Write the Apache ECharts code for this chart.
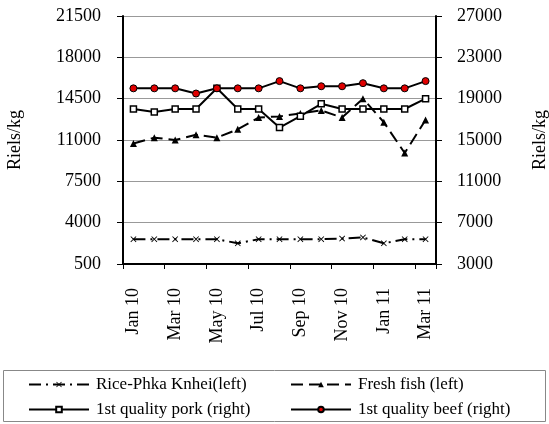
<!DOCTYPE html>
<html>
<head>
<meta charset="utf-8">
<script src="https://cdn.jsdelivr.net/npm/echarts@6/dist/echarts.min.js"></script>
<style>
  html, body { margin: 0; padding: 0; background: #fff; }
  #chart { width: 549px; height: 424px; }
</style>
</head>
<body>
<div id="chart"></div>
<script>
// months Jan 10 .. Mar 11
const months = ['Jan 10', 'Feb 10', 'Mar 10', 'Apr 10', 'May 10', 'Jun 10', 'Jul 10', 'Aug 10',
  'Sep 10', 'Oct 10', 'Nov 10', 'Dec 10', 'Jan 11', 'Feb 11', 'Mar 11']

// left axis (Riels/kg)
const rice = [2600, 2600, 2600, 2600, 2600, 2250, 2600, 2600, 2600, 2600, 2650, 2750, 2250, 2600, 2600]
const fish = [10700, 11200, 11000, 11450, 11200, 11900, 12900, 13000, 13250, 13500, 12900, 14500, 12500, 9900, 12700]
// right axis (Riels/kg)
const pork = [18000, 17700, 18000, 18000, 20000, 18000, 18000, 16200, 17300, 18500, 18000, 18000, 18000, 18000, 19000]
const beef = [20000, 20000, 20000, 19500, 20000, 20000, 20000, 20700, 20000, 20200, 20200, 20500, 20000, 20000, 20700]

const leftMin = 500, leftMax = 21500, leftStep = 3500
const rightMin = 3000, rightMax = 27000, rightStep = 4000

const font = 'Liberation Serif'
const names = ['Rice-Phka Knhei(left)', 'Fresh fish (left)', '1st quality pork (right)', '1st quality beef (right)']

// ticks are counted from min, so shift each axis to start at 0
const shiftL = v => v - leftMin
const shiftR = v => v - rightMin

const chart = echarts.init(document.getElementById('chart'))

const legendAt = (name, left, top) => ({
  data: [name],
  left: left,
  top: top,
  itemWidth: 60,
  itemHeight: 7,
  itemGap: 0,
  padding: 0,
  textStyle: { fontFamily: font, fontSize: 17, color: '#000', padding: [0, 0, 0, 2] }
})

chart.setOption({
  animation: false,
  textStyle: { fontFamily: font },
  grid: { left: 123, right: 113, top: 16, bottom: 160, outerBoundsMode: 'none' },
  legend: [
    legendAt(names[0], 28, 376),
    legendAt(names[1], 290, 376),
    legendAt(names[2], 28, 401),
    legendAt(names[3], 290, 401)
  ],
  graphic: [{
    type: 'rect',
    shape: { x: 3.5, y: 370.5, width: 542, height: 51 },
    style: { fill: 'none', stroke: '#888', lineWidth: 1 }
  }],
  xAxis: {
    type: 'category',
    data: months,
    boundaryGap: true,
    axisLine: { lineStyle: { color: '#000', width: 2 } },
    axisTick: { show: true, interval: 1, length: 5, lineStyle: { color: '#000' } },
    axisLabel: {
      interval: 1, rotate: 90, color: '#000', fontSize: 18, fontFamily: font, margin: 24
    },
    splitLine: { show: false }
  },
  yAxis: [{
    type: 'value',
    min: 0,
    max: leftMax - leftMin,
    interval: leftStep,
    name: 'Riels/kg',
    nameLocation: 'middle',
    nameGap: 99,
    nameTextStyle: { fontFamily: font, fontSize: 18, color: '#000' },
    axisLine: { show: true, lineStyle: { color: '#000', width: 2 } },
    axisTick: { show: true, length: 6, lineStyle: { color: '#000' } },
    axisLabel: { color: '#000', fontSize: 18, fontFamily: font, margin: 22, formatter: v => v + leftMin },
    splitLine: { show: true, lineStyle: { color: '#999', width: 1 } }
  }, {
    type: 'value',
    position: 'right',
    min: 0,
    max: rightMax - rightMin,
    interval: rightStep,
    name: 'Riels/kg',
    nameLocation: 'middle',
    nameGap: 95,
    nameRotate: 90,
    nameTextStyle: { fontFamily: font, fontSize: 18, color: '#000' },
    axisLine: { show: true, lineStyle: { color: '#000', width: 2 } },
    axisTick: { show: true, length: 6, lineStyle: { color: '#000' } },
    axisLabel: { color: '#000', fontSize: 18, fontFamily: font, margin: 21, formatter: v => v + rightMin },
    splitLine: { show: false }
  }],
  series: [{
    name: names[0],
    type: 'line',
    yAxisIndex: 0,
    data: rice.map(shiftL),
    symbol: 'path://M0,1L1,0L5,4L9,0L10,1L6,5L10,9L9,10L5,6L1,10L0,9L4,5Z',
    symbolSize: 6,
    showAllSymbol: true,
    itemStyle: { color: '#000' },
    lineStyle: { color: '#000', width: 2, type: [12, 5, 2, 5] }
  }, {
    name: names[1],
    type: 'line',
    yAxisIndex: 0,
    data: fish.map(shiftL),
    symbol: 'triangle',
    symbolSize: 7,
    showAllSymbol: true,
    itemStyle: { color: '#000' },
    lineStyle: { color: '#000', width: 2, type: [12, 6] }
  }, {
    name: names[2],
    type: 'line',
    yAxisIndex: 1,
    data: pork.map(shiftR),
    symbol: 'rect',
    symbolSize: 6,
    showAllSymbol: true,
    itemStyle: { color: '#fff', borderColor: '#000', borderWidth: 1.5 },
    lineStyle: { color: '#000', width: 2 }
  }, {
    name: names[3],
    type: 'line',
    yAxisIndex: 1,
    data: beef.map(shiftR),
    symbol: 'circle',
    symbolSize: 7,
    showAllSymbol: true,
    itemStyle: { color: '#e00000', borderColor: '#000', borderWidth: 1 },
    lineStyle: { color: '#000', width: 2 }
  }]
})
</script>
</body>
</html>
